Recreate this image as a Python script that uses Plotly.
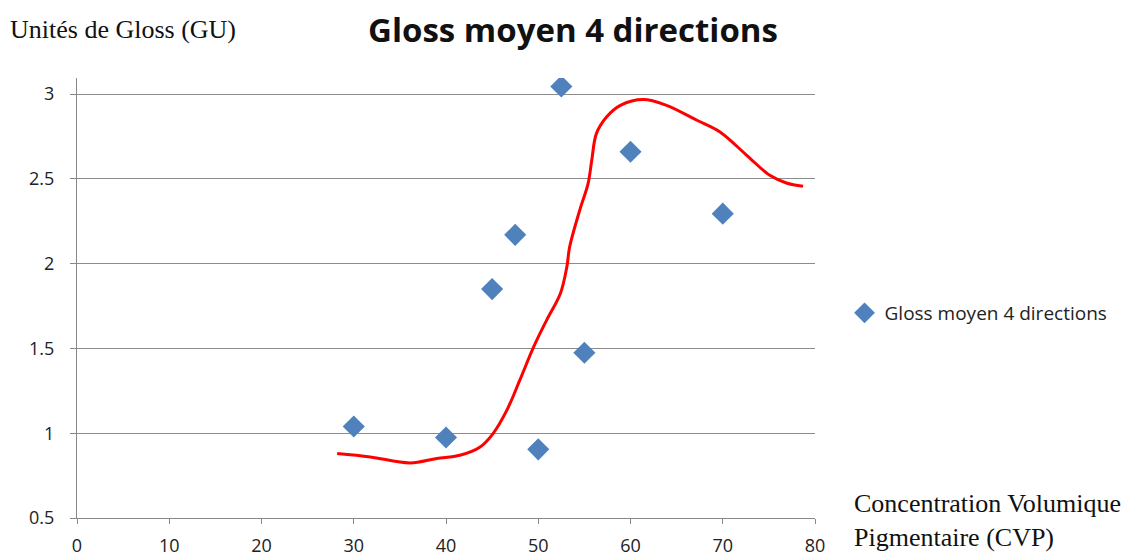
import plotly.graph_objects as go

# Data: scatter points
cvp = [30, 40, 45, 47.5, 50, 52.5, 55, 60, 70]
gloss = [1.04, 0.975, 1.85, 2.17, 0.905, 3.045, 1.475, 2.66, 2.295]

# Hand-drawn red trend curve
curve_x = [28.2, 31.8, 36.1, 39.0, 41.5, 43.7, 45.1, 46.6, 48.0, 49.5, 50.9, 52.4,
           53.1, 53.4, 54.5, 55.4, 55.8, 56.3, 57.4, 58.9, 61.4, 63.9, 67.2, 69.7,
           72.6, 75.1, 76.9, 78.7]
curve_y = [0.880, 0.860, 0.825, 0.851, 0.870, 0.919, 0.998, 1.136, 1.313, 1.509, 1.666, 1.824,
           1.981, 2.098, 2.316, 2.472, 2.610, 2.767, 2.865, 2.934, 2.968, 2.934, 2.846, 2.777,
           2.639, 2.521, 2.476, 2.456]

x_ticks = [0, 10, 20, 30, 40, 50, 60, 70, 80]
y_ticks = [0.5, 1, 1.5, 2, 2.5, 3]

fig = go.Figure()
fig.add_trace(go.Scatter(
    x=curve_x, y=curve_y, mode="lines",
    line=dict(color="#ff0000", width=3, shape="spline", smoothing=1.0),
    showlegend=False, hoverinfo="skip"))
fig.add_trace(go.Scatter(
    x=cvp, y=gloss, mode="markers", name="Gloss moyen 4 directions",
    marker=dict(symbol="diamond", size=17, color="#4F81BD")))

tickfont = dict(family="Open Sans, sans-serif", size=18, color="#222222")
serif = dict(family="Liberation Serif, serif", size=26, color="#111111")
fig.update_layout(
    width=1125, height=550,
    margin=dict(l=69, r=318, t=70, b=40, autoexpand=False),
    paper_bgcolor="white", plot_bgcolor="white",
    title=dict(text="<b>Gloss moyen 4 directions</b>", x=0.5022, xref="container", xanchor="center",
               y=0.9585, yref="container", yanchor="middle",
               font=dict(family="Open Sans, sans-serif", size=33, color="#111111")),
    legend=dict(x=1.04, y=0.466, xanchor="left", yanchor="middle",
                font=dict(family="Open Sans, sans-serif", size=19, color="#222222"),
                bgcolor="rgba(0,0,0,0)"),
    xaxis=dict(range=[0, 80], tickvals=x_ticks, showgrid=False, zeroline=False,
               showline=True, linecolor="#888888", linewidth=1, automargin=False,
               ticks="outside", ticklen=5, tickcolor="#888888", tickfont=tickfont,
               ticklabelstandoff=6),
    yaxis=dict(range=[0.5, 3.095], tickvals=y_ticks, showgrid=True, gridcolor="#8c8c8c",
               gridwidth=1, zeroline=False, showline=True, linecolor="#888888", linewidth=1,
               automargin=False,
               ticks="outside", ticklen=6, tickcolor="#888888", tickfont=tickfont,
               ticklabelstandoff=12),
    annotations=[
        dict(text="Unités de Gloss (GU)", xref="paper", yref="paper", x=-0.0935, y=1.11,
             xanchor="left", yanchor="middle", showarrow=False, font=serif),
        dict(text="Concentration Volumique<br>Pigmentaire (CVP)", xref="paper", yref="paper",
             x=1.050, y=-0.005, xanchor="left", yanchor="middle", showarrow=False, align="left",
             font=serif),
    ],
)
fig.write_html("out.html")
